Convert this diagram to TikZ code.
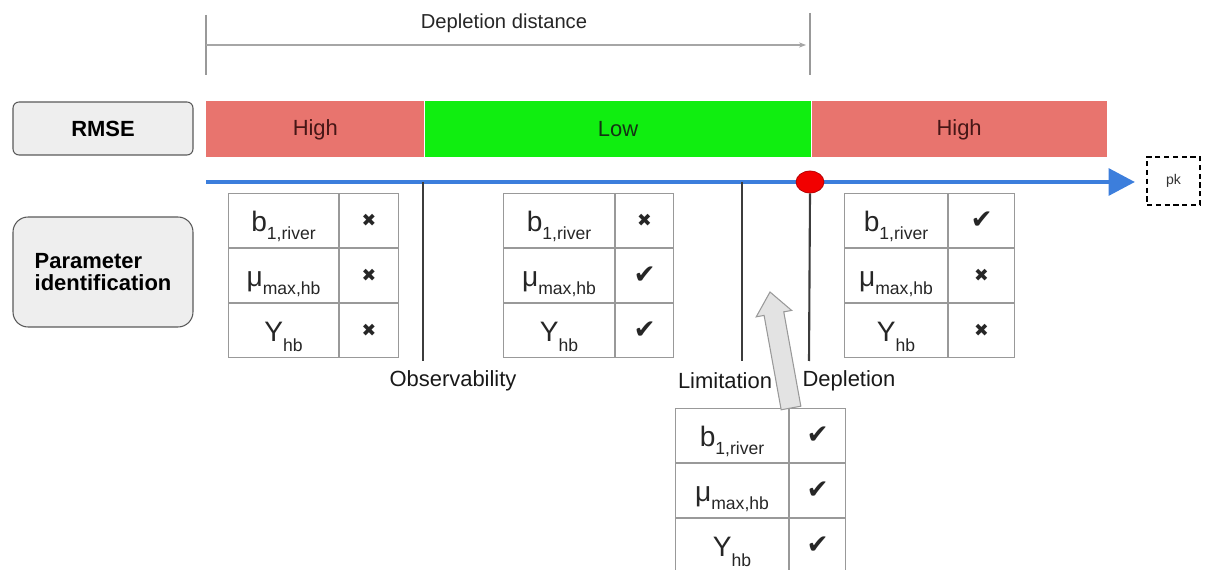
\documentclass[tikz,border=0pt]{standalone}
\usepackage{fontspec}
\setmainfont{Liberation Sans}
\newfontfamily\symfont{DejaVu Sans}
\usetikzlibrary{arrows.meta,calc,shapes.geometric}

\definecolor{highred}{RGB}{232,116,110}
\definecolor{lowgreen}{RGB}{16,238,16}
\definecolor{axisblue}{RGB}{60,126,220}
\definecolor{hightext}{RGB}{70,22,22}
\definecolor{lowtext}{RGB}{20,50,20}
\definecolor{boxfill}{RGB}{238,238,238}
\definecolor{linegray}{RGB}{60,60,60}

% table entries: symbol with a lowered index, boxed to a fixed height
\newcommand\fs[1]{\fontsize{#1}{#1}\selectfont}
\newcommand\sub[2]{\raisebox{-#1}{\fs{10}#2}}
\newcommand\entry[1]{\raisebox{0pt}[12pt][0pt]{\fs{16}#1}}
\newcommand\bparam{\entry{b\sub{4.8pt}{1,river}}}
\newcommand\muparam{\entry{μ\sub{4.8pt}{max,hb}}}
\newcommand\yparam{\entry{Y\sub{5.8pt}{hb}}}
\newcommand\markok{{\symfont\fs{15}✔}}
\newcommand\markno{{\symfont\fs{10}✖}}

% #1 name, #2 x, #3 y, #4 left width, #5 right width, #6-#8 marks
\newcommand\paramtable[8]{%
  \node[cellbox, minimum width={#4*0.02cm}] (#1-b) at (#2,#3) {\bparam};
  \node[cellbox, minimum width={#5*0.02cm}] (#1-bm) at (#1-b.north east) {#6};
  \node[cellbox, minimum width={#4*0.02cm}] (#1-mu) at (#1-b.south west) {\muparam};
  \node[cellbox, minimum width={#5*0.02cm}] (#1-mum) at (#1-mu.north east) {#7};
  \node[cellbox, minimum width={#4*0.02cm}] (#1-y) at (#1-mu.south west) {\yparam};
  \node[cellbox, minimum width={#5*0.02cm}] (#1-ym) at (#1-y.north east) {#8};
}

\tikzset{
  cellbox/.style={draw=gray!80, line width=0.6pt, anchor=north west,
    minimum height=1.08cm, inner sep=0pt, text=black!85},
  barseg/.style={anchor=north west, minimum height=1.12cm, inner sep=0pt,
    font=\fs{12.5}},
  sidebox/.style={draw=black!65, line width=0.6pt, fill=boxfill,
    minimum width=3.6cm, font=\bfseries\fs{12.5}, align=left, text=black},
  marker/.style={draw=linegray, line width=1.2pt},
  caption/.style={font=\fs{12.5}, text=black!90},
  axisline/.style={draw=axisblue, line width=2.8pt,
    -{Triangle[length=15pt,width=15pt]}},
}

\begin{document}
\begin{tikzpicture}[x=0.02cm, y=-0.02cm]
\useasboundingbox (0,0) rectangle (1206,570);

% depletion distance span
\coordinate (ddl-t) at (206,15);
\coordinate (ddl-b) at (206,75);
\coordinate (ddr-t) at (810,13);
\coordinate (ddr-b) at (810,75);
\coordinate (dd-a) at (206,45);
\coordinate (dd-b) at (806,45);
\draw[gray!80, line width=0.6pt] (ddl-t) -- (ddl-b);
\draw[gray!80, line width=0.6pt] (ddr-t) -- (ddr-b);
\draw[gray!70, line width=0.6pt, -{Stealth[length=4pt,width=3pt]}] (dd-a) -- (dd-b);
\node[font=\fs{11.5}, text=black!85] (ddlabel) at (504,23) {Depletion distance};

% row headers
\node[sidebox, rounded corners=0.12cm, minimum height=1.06cm] (rmse) at (103,128.5) {RMSE};
\node[sidebox, rounded corners=0.3cm, minimum height=2.2cm] (pid) at (103,272)
  {\baselineskip=15.5pt Parameter\\identification};

% RMSE bar
\node[barseg, fill=highred, text=hightext, minimum width=4.36cm] (high1) at (206,101) {High};
\node[barseg, fill=lowgreen, text=lowtext, minimum width=7.72cm] (low) at (high1.north east) {Low};
\node[barseg, fill=highred, text=hightext, minimum width=5.9cm] (high2) at (low.north east) {High};

% distance axis
\coordinate (ax-s) at (206,182);
\coordinate (ax-e) at (1135,182);
\draw[axisline] (ax-s) -- (ax-e);
\node[draw, dash pattern=on 3pt off 2pt, line width=0.6pt,
  minimum width=1.06cm, minimum height=0.96cm, font=\fs{8}, text=black!80] (pk) at (1173.5,181) {pk};

% thresholds
\coordinate (obs-t) at (423,182);
\coordinate (obs-b) at (423,361);
\coordinate (lim-t) at (742,182);
\coordinate (lim-b) at (742,361);
\coordinate (dep-b) at (809,361);
\draw[marker] (obs-t) -- (obs-b);
\draw[marker] (lim-t) -- (lim-b);
\node[ellipse, fill=red!95!black, draw=red!70!black, line width=0.4pt,
  minimum width=0.56cm, minimum height=0.44cm, inner sep=0pt] (dep) at (810,182) {};
\draw[marker] (dep.south) -- (dep-b);
\node[caption] (obs) at (453,381) {Observability};
\node[caption] (lim) at (725,381) {Limitation};
\node[caption] (depl) at (849,381) {Depletion};

% identification tables
\paramtable{t1}{228}{193}{110}{59}{\markno}{\markno}{\markno}
\paramtable{t2}{503}{193}{111}{58}{\markno}{\markok}{\markok}
\paramtable{t3}{844}{193}{103}{66}{\markok}{\markno}{\markno}
\paramtable{t4}{675}{408}{113}{56}{\markok}{\markok}{\markok}

% block arrow from the last table up between the limitation and depletion
\coordinate (ba-base) at (791,408);
\coordinate (ba-tip) at (770,292);
\coordinate (ba-head) at ($(ba-tip)!0.44cm!(ba-base)$);
\filldraw[fill=gray!22, draw=gray!80, line width=0.6pt]
  ($(ba-base)!0.2cm!90:(ba-tip)$) -- ($(ba-head)!0.2cm!-90:(ba-base)$)
  -- ($(ba-head)!0.36cm!-90:(ba-base)$) -- (ba-tip)
  -- ($(ba-head)!0.36cm!90:(ba-base)$) -- ($(ba-head)!0.2cm!90:(ba-base)$)
  -- ($(ba-base)!0.2cm!-90:(ba-tip)$) -- cycle;
\end{tikzpicture}
\end{document}
